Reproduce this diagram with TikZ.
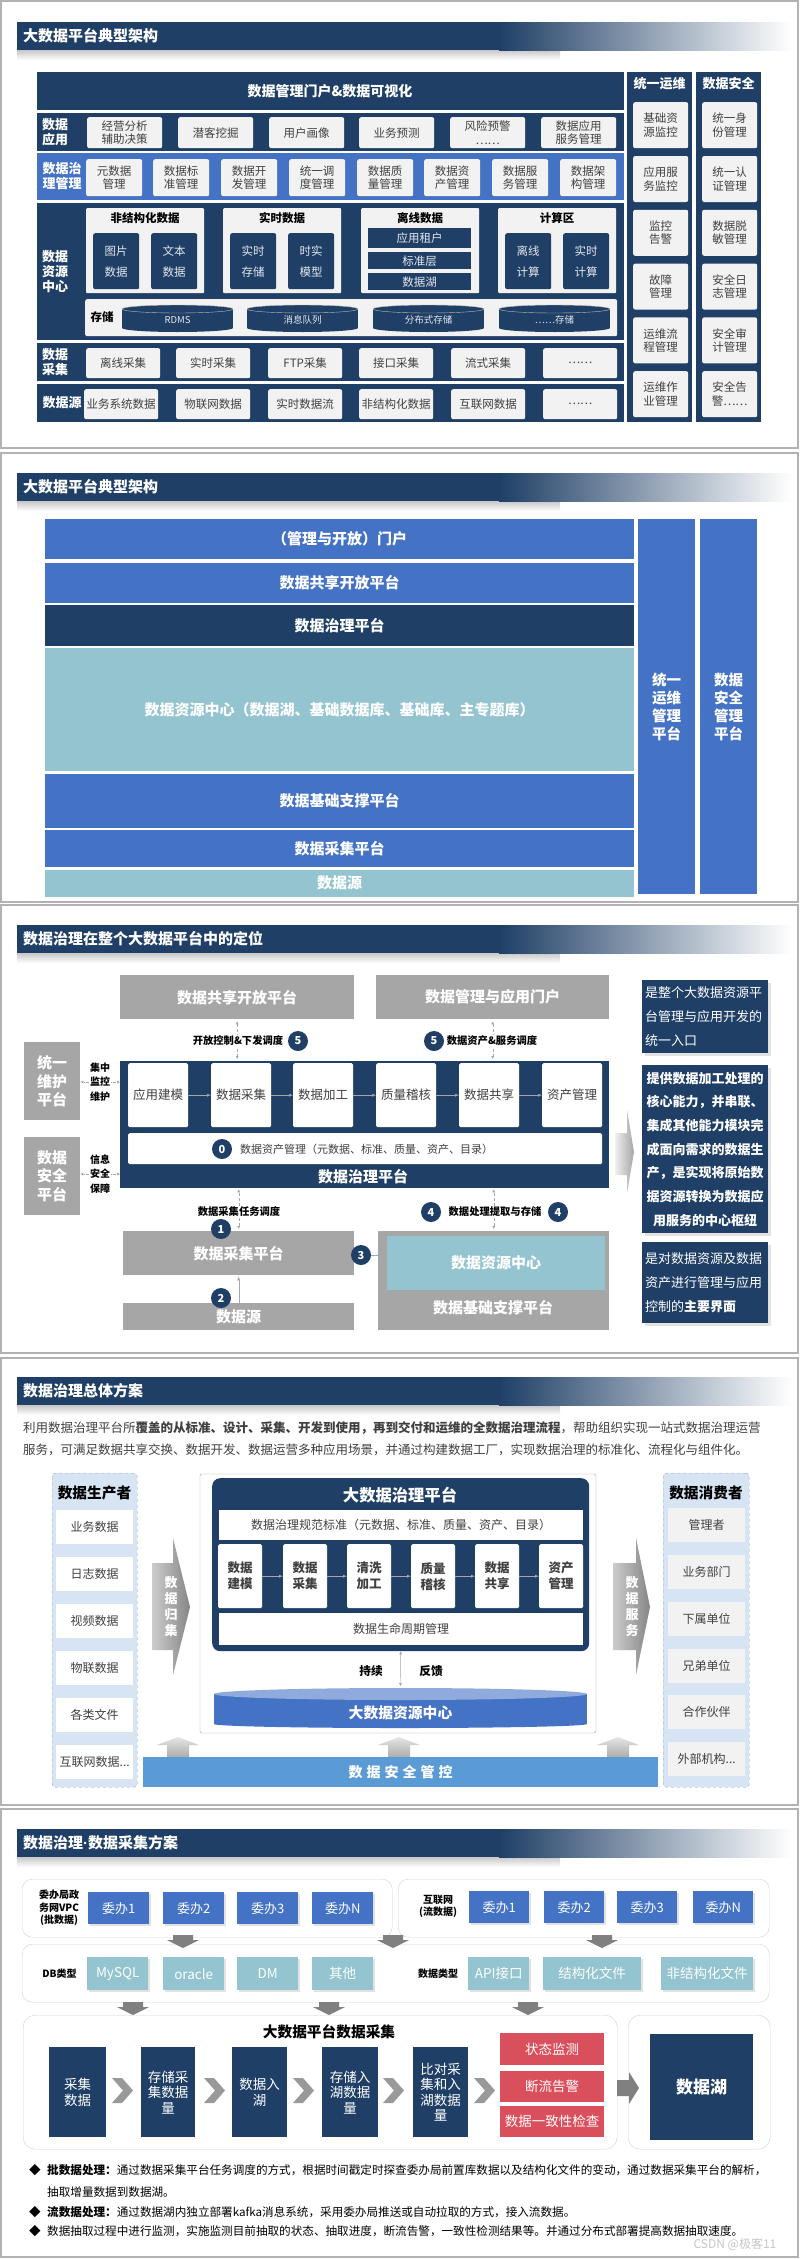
\documentclass[tikz,border=0pt]{standalone}
\usepackage{fontspec}
\setmainfont{Noto Sans CJK SC}
\newfontfamily\latinf{Liberation Sans}
\usepackage{tikz}
\usetikzlibrary{positioning,arrows.meta,calc,shadows}

\definecolor{navy}{HTML}{1F3F66}
\definecolor{oblue}{HTML}{4472C4}
\definecolor{tealc}{HTML}{93C4CF}
\definecolor{midg}{HTML}{A6A6A6}
\definecolor{lightg}{HTML}{F2F2F2}
\definecolor{redc}{HTML}{D9505C}
\definecolor{paleblue}{HTML}{D6E4F3}
\definecolor{dashc}{HTML}{8EA6C4}
\definecolor{secblue}{HTML}{5B9BD5}
\definecolor{cyltop}{HTML}{8FAADC}
\definecolor{txt}{HTML}{404040}

\newcommand\fsz[2]{\fontsize{#1}{#2}\selectfont}
\newcommand\threedots{...}
% title bar of a panel: name, top y, text
\newcommand\paneltitle[3]{%
  \shade[top color=black!22, bottom color=white] (17,#2+28) rectangle (560,#2+38);
  \fill[navy] (17,#2) rectangle (500,#2+28);
  \shade[left color=navy, right color=white] (499,#2) rectangle (792,#2+28);
  \node[titletext, anchor=west] (#1) at (23,#2+14) {#3};
}

\tikzset{
  panelline/.style={draw=gray!60, line width=1.5pt},
  titletext/.style={text=white, font=\fsz{15}{18}\bfseries, inner sep=0pt},
  headtext/.style={text=white, font=\fsz{14}{16}\bfseries, inner sep=0pt},
  rowlabel/.style={text=white, font=\fsz{13}{15}\bfseries, align=center, inner sep=0pt},
  coltitle/.style={text=white, font=\fsz{13}{15}\bfseries, inner sep=0pt},
  lbox/.style={fill=lightg, rounded corners=2pt, text=txt, font=\fsz{11.5}{13.5}, align=center, inner sep=0pt},
  subarea/.style={fill=lightg, rounded corners=1pt, inner sep=0pt},
  areatitle/.style={text=black, font=\fsz{11.5}{13}\bfseries, inner sep=0pt},
  nbox/.style={fill=navy, rounded corners=2pt, text=white!88!navy, font=\fsz{11.5}{21}, align=center, inner sep=0pt},
  barbox/.style={fill=navy, text=white!88!navy, font=\fsz{11.5}{13}, inner sep=0pt},
  cyltext/.style={text=white!88!navy, font=\fsz{9.5}{11}, inner sep=0pt},
  % panel 2
  layer/.style={minimum width=589pt, text=white, font=\fsz{15}{18}\bfseries, inner sep=0pt},
  sidecol/.style={fill=oblue, minimum width=57pt, minimum height=375pt, text=white, font=\fsz{14.5}{18}\bfseries, align=center, inner sep=0pt},
  % panel 3
  gbox/.style={fill=midg, text=white, font=\fsz{15}{18.3}\bfseries, align=center, inner sep=0pt},
  wbox/.style={fill=white, rounded corners=1.5pt, text=txt, font=\fsz{12.5}{15}, align=center, inner sep=0pt},
  numdot/.style={circle, fill=navy, text=white, minimum size=20pt, inner sep=0pt, font=\fsz{11}{11}\bfseries},
  steplabel/.style={text=black, font=\fsz{10.3}{12}\bfseries, inner sep=1pt},
  sidelabel/.style={text=black, font=\fsz{10}{14.3}\bfseries, align=center, inner sep=1pt},
  flowarr/.style={-{Latex[length=4pt, width=3pt]}, draw=gray!70, thin},
  linkarr/.style={{Latex[length=3pt, width=3pt]}-{Latex[length=3pt, width=3pt]}, draw=gray!70, densely dashed, thin},
  dotarr/.style={-{Latex[length=3pt, width=3pt]}, draw=gray!70, densely dotted, thin},
  notebox/.style={fill=navy, text=white, font=\fsz{13}{23.7}, text width=120pt, inner sep=3pt,
    drop shadow={shadow xshift=3pt, shadow yshift=-3pt, fill=gray!45}},
  % panel 4
  para/.style={text=txt, font=\fsz{12.5}{15}, inner sep=0pt},
  dashbox/.style={draw=dashc, dashed, fill=paleblue, rounded corners=3pt, inner sep=0pt},
  ptitle/.style={text=black, font=\fsz{14.7}{17}\bfseries, inner sep=0pt},
  wcell/.style={fill=white, text=txt, font=\fsz{12}{14}, inner sep=0pt},
  stepcell/.style={fill=white, rounded corners=1.5pt, text=txt, font=\fsz{12.5}{16}\bfseries, align=center, inner sep=0pt},
  vtext/.style={text=white, font=\fsz{13}{16}\bfseries, align=center, inner sep=0pt},
  % panel 5
  roundframe/.style={draw=gray!35, fill=white, rounded corners=10pt, inner sep=0pt},
  bbox/.style={fill=oblue, text=white, font=\fsz{13}{15}, inner sep=0pt,
    drop shadow={shadow xshift=1.5pt, shadow yshift=-1.5pt, fill=gray!45}},
  tbox/.style={fill=tealc, text=white, font=\fsz{13.5}{15}, inner sep=0pt,
    drop shadow={shadow xshift=1.5pt, shadow yshift=-1.5pt, fill=gray!45}},
  rbox/.style={fill=redc, text=white, font=\fsz{13.5}{15}, inner sep=0pt},
  tallbox/.style={fill=navy, text=white, font=\fsz{13.5}{15.5}, align=center, inner sep=0pt},
  smalllabel/.style={text=black, font=\fsz{10}{12.3}\bfseries, align=center, inner sep=0pt},
  bullet/.style={text=black, font=\fsz{11.6}{13}, inner sep=0pt}
}

\begin{document}
\begin{tikzpicture}[x=1pt, y=-1pt]
\useasboundingbox (0,0) rectangle (800,2259);
\fill[white] (0,0) rectangle (800,2259);

% ================= panel 1 =================
\draw[panelline] (1,1) rectangle (798,448);
\paneltitle{p1title}{22}{大数据平台典型架构}
% portal row
\fill[navy] (37,72) rectangle (624,110);
\node[headtext] (p1portal) at (330,91) {数据管理门户\&数据可视化};
% application row
\fill[navy] (37,113) rectangle (624,151);
\node[rowlabel] (p1lapp) at (55,132) {数据\\应用};
\foreach \x/\t [count=\i] in {87/{经营分析\\辅助决策}, 178/潜客挖掘, 269/用户画像, 359/业务预测, 450/{风险预警\\……}, 541/{数据应用\\服务管理}}
  \node[lbox, minimum width=75pt, minimum height=31pt, anchor=north west] (p1app\i) at (\x,117) {\t};
% governance row
\fill[oblue] (37,153) rectangle (624,200);
\node[rowlabel] (p1lgov) at (62,176) {数据治\\理管理};
\foreach \x/\t [count=\i] in {86/{元数据\\管理}, 153/{数据标\\准管理}, 221/{数据开\\发管理}, 289/{统一调\\度管理}, 357/{数据质\\量管理}, 424/{数据资\\产管理}, 492/{数据服\\务管理}, 560/{数据架\\构管理}}
  \node[lbox, minimum width=56pt, minimum height=37pt, anchor=north west] (p1gov\i) at (\x,159) {\t};
% resource centre row
\fill[navy] (37,203) rectangle (624,340);
\node[rowlabel] (p1lres) at (55,272) {数据\\资源\\中心};
\foreach \x/\t [count=\i] in {86/非结构化数据, 223/实时数据, 361/离线数据, 498/计算区}{
  \node[subarea, minimum width=118pt, minimum height=85pt, anchor=north west] (p1area\i) at (\x,208) {};
  \node[areatitle, below=4pt of p1area\i.north] (p1areat\i) {\t};
}
\foreach \x/\t [count=\i] in {93/{图片\\数据}, 151/{文本\\数据}, 230/{实时\\存储}, 288/{时实\\模型}, 505/{离线\\计算}, 563/{实时\\计算}}
  \node[nbox, minimum width=46pt, minimum height=56pt, anchor=north west] (p1inner\i) at (\x,233) {\t};
\foreach \y/\h/\t [count=\i] in {228/20/应用租户, 252/17/标准层, 273/17/数据湖}
  \node[barbox, minimum width=103pt, minimum height=\h pt, anchor=north west] (p1lake\i) at (368,\y) {\t};
% storage strip
\node[lbox, minimum width=532pt, minimum height=37pt, anchor=north west] (p1store) at (85,299) {};
\node[areatitle] (p1storet) at (102,317) {存储};
\foreach \x/\t [count=\i] in {122/RDMS, 247/消息队列, 373/分布式存储, 499/……存储}{
  \fill[navy] (\x,309) rectangle (\x+111,328);
  \fill[navy] (\x+55.5,328) ellipse [x radius=55.5pt, y radius=4pt];
  \filldraw[fill=navy, draw=gray!55, thin] (\x+55.5,309) ellipse [x radius=55.5pt, y radius=4pt];
  \node[cyltext] (p1cyl\i) at (\x+55.5,320) {\t};
}
% collection row
\fill[navy] (37,343) rectangle (624,381);
\node[rowlabel] (p1lcol) at (55,362) {数据\\采集};
\foreach \x/\t [count=\i] in {86/离线采集, 176/实时采集, 268/FTP采集, 359/接口采集, 451/流式采集, 543/……}
  \node[lbox, minimum width=74pt, minimum height=30pt, anchor=north west] (p1col\i) at (\x,348) {\t};
% source row
\fill[navy] (37,384) rectangle (624,422);
\node[rowlabel] (p1lsrc) at (62,403) {数据源};
\foreach \x/\t [count=\i] in {84/业务系统数据, 176/物联网数据, 268/实时数据流, 359/非结构化数据, 451/互联网数据, 543/……}
  \node[lbox, minimum width=74pt, minimum height=30pt, anchor=north west] (p1src\i) at (\x,389) {\t};
% side columns
\fill[navy] (627,72) rectangle (692,422);
\node[coltitle] (p1opst) at (659.5,84) {统一运维};
\foreach \t [count=\i] in {{基础资\\源监控}, {应用服\\务监控}, {监控\\告警}, {故障\\管理}, {运维流\\程管理}, {运维作\\业管理}}
  \node[lbox, minimum width=55pt, minimum height=46pt, anchor=north west] (p1ops\i) at (633,{102+53.8*(\i-1)}) {\t};
\fill[navy] (696,72) rectangle (761,422);
\node[coltitle] (p1sect) at (728.5,84) {数据安全};
\foreach \t [count=\i] in {{统一身\\份管理}, {统一认\\证管理}, {数据脱\\敏管理}, {安全日\\志管理}, {安全审\\计管理}, {安全告\\警……}}
  \node[lbox, minimum width=55pt, minimum height=46pt, anchor=north west] (p1sec\i) at (702,{102+53.8*(\i-1)}) {\t};

% ================= panel 2 =================
\draw[panelline] (1,453) rectangle (798,902);
\paneltitle{p2title}{473}{大数据平台典型架构}
\node[layer, fill=oblue, minimum height=40pt, anchor=north west] (p2portal) at (45,519) {（管理与开放）门户};
\node[layer, fill=oblue, minimum height=40pt, below=3pt of p2portal] (p2share) {数据共享开放平台};
\node[layer, fill=navy, minimum height=41pt, below=2pt of p2share] (p2gov) {数据治理平台};
\node[layer, fill=tealc, minimum height=123pt, below=2pt of p2gov] (p2res) {数据资源中心（数据湖、基础数据库、基础库、主专题库）};
\node[layer, fill=oblue, minimum height=54pt, below=2pt of p2res] (p2base) {数据基础支撑平台};
\node[layer, fill=oblue, minimum height=37pt, below=2pt of p2base] (p2col) {数据采集平台};
\node[layer, fill=tealc, minimum height=27pt, below=2pt of p2col] (p2src) {数据源};
\node[sidecol, anchor=north west] (p2ops) at (638,519) {统一\\运维\\管理\\平台};
\node[sidecol, anchor=north west] (p2sec) at (700,519) {数据\\安全\\管理\\平台};

% ================= panel 3 =================
\draw[panelline] (1,905) rectangle (798,1353);
\paneltitle{p3title}{925}{数据治理在整个大数据平台中的定位}
\node[gbox, minimum width=234pt, minimum height=44pt, anchor=north west] (p3share) at (120,975) {数据共享开放平台};
\node[gbox, minimum width=233pt, minimum height=44pt, anchor=north west] (p3portal) at (376,975) {数据管理与应用门户};
\node[gbox, minimum width=56pt, minimum height=78pt, anchor=north west] (p3ops) at (24,1042) {统一\\维护\\平台};
\node[gbox, minimum width=56pt, minimum height=78pt, anchor=north west] (p3sec) at (24,1137) {数据\\安全\\平台};
% governance platform
\node[fill=navy, minimum width=489pt, minimum height=127pt, inner sep=0pt, anchor=north west] (p3gov) at (120,1061) {};
\foreach \x/\t [count=\i] in {128/应用建模, 211/数据采集, 293/数据加工, 376/质量稽核, 459/数据共享, 542/资产管理}
  \node[wbox, minimum width=60pt, minimum height=64pt, anchor=north west] (p3step\i) at (\x,1063) {\t};
\foreach \i [remember=\i as \lasti (initially 1)] in {2,3,4,5,6}
  \draw[flowarr] (p3step\lasti) -- (p3step\i);
\node[wbox, minimum width=474pt, minimum height=31pt, anchor=north west] (p3asset) at (128,1133) {};
\node[numdot] (p3n0) at (222,1149) {0};
\node[text=txt, font=\fsz{11}{13}, inner sep=0pt, anchor=west] (p3assett) at (240,1149) {数据资产管理（元数据、标准、质量、资产、目录）};
\node[text=white, font=\fsz{15}{18}\bfseries, inner sep=0pt] (p3govt) at (363,1177) {数据治理平台};
% side platforms
\node[sidelabel] (p3lab1) at (100,1082) {集中\\监控\\维护};
\node[sidelabel] (p3lab2) at (100,1174) {信息\\安全\\保障};
\draw[dotarr] (p3lab1.west) -- (p3lab1 -| p3ops.east);
\draw[dotarr] (p3lab1.east) -- (p3lab1 -| p3gov.west);
\draw[dotarr] (p3lab2.west) -- (p3lab2 -| p3sec.east);
\draw[dotarr] (p3lab2.east) -- (p3lab2 -| p3gov.west);
% lower platforms
\node[gbox, minimum width=231pt, minimum height=44pt, anchor=north west] (p3col) at (123,1231) {数据采集平台};
\node[gbox, minimum width=231pt, minimum height=27pt, anchor=north west] (p3src) at (123,1303) {数据源};
\node[fill=midg, minimum width=231pt, minimum height=99pt, inner sep=0pt, anchor=north west] (p3base) at (378,1231) {};
\node[gbox, fill=tealc, minimum width=218pt, minimum height=54pt, anchor=north west] (p3res) at (387,1236) {数据资源中心};
\node[text=white, font=\fsz{15}{18}\bfseries, inner sep=0pt] (p3baset) at (493,1308) {数据基础支撑平台};
% links
\draw[linkarr, shorten <=2pt, shorten >=2pt] (p3share.south) -- (p3share.south |- p3gov.north);
\node[steplabel, fill=white] (p3l5a) at (238,1041) {开放控制\&下发调度};
\node[numdot] (p3n5a) at (298,1041) {5};
\draw[linkarr, shorten <=2pt, shorten >=2pt] (p3portal.south) -- (p3portal.south |- p3gov.north);
\node[steplabel, fill=white] (p3l5b) at (492,1041) {数据资产\&服务调度};
\node[numdot] (p3n5b) at (434,1041) {5};
\draw[linkarr, shorten <=2pt, shorten >=1pt] (p3col.north) -- (p3col.north |- p3gov.south);
\node[steplabel, fill=white] (p3l1) at (239,1212) {数据采集任务调度};
\node[numdot] (p3n1) at (221,1229) {1};
\draw[flowarr, shorten >=1pt] (p3src.north) -- (p3col.south);
\node[numdot] (p3n2) at (221,1298) {2};
\draw[linkarr, shorten <=2pt, shorten >=1pt] (p3base.north) -- (p3base.north |- p3gov.south);
\node[steplabel, fill=white] (p3l4) at (495,1212) {数据处理提取与存储};
\node[numdot] (p3n4a) at (431,1212) {4};
\node[numdot] (p3n4b) at (558,1212) {4};
\node[numdot] (p3n3) at (361,1255) {3};
\draw[flowarr] (p3n3.east) -- (p3n3 -| p3res.west);
% big arrow to notes
\shade[left color=gray!12, right color=gray!70] (615,1133) -- (627,1133) -- (627,1110) -- (634,1152) -- (627,1193) -- (627,1175) -- (615,1175) -- cycle;
% notes
\node[notebox, align=left, minimum height=73pt, anchor=north west] (p3note1) at (642,980)
  {是整个大数据资源平\\台管理与应用开发的\\统一入口};
\node[notebox, align=center, font=\fsz{13}{23.7}\bfseries, minimum height=168pt, anchor=north west] (p3note2) at (642,1065)
  {提供数据加工处理的\\核心能力，并串联、\\集成其他能力模块完\\成面向需求的数据生\\产，是实现将原始数\\据资源转换为数据应\\用服务的中心枢纽};
\node[notebox, align=left, minimum height=81pt, anchor=north west] (p3note3) at (642,1242)
  {是对数据资源及数据\\资产进行管理与应用\\控制的\textbf{主要界面}};

% ================= panel 4 =================
\draw[panelline] (1,1358) rectangle (798,1805);
\paneltitle{p4title}{1377}{数据治理总体方案}
\node[para, anchor=west] (p4para1) at (23,1428) {利用数据治理平台所\textbf{覆盖的从标准、设计、采集、开发到使用，再到交付和运维的全数据治理流程}，帮助组织实现一站式数据治理运营};
\node[para, anchor=west] (p4para2) at (23,1450) {服务，可满足数据共享交换、数据开发、数据运营多种应用场景，并通过构建数据工厂，实现数据治理的标准化、流程化与组件化。};
% producers
\node[dashbox, minimum width=85pt, minimum height=314pt, anchor=north west] (p4prod) at (52,1473) {};
\node[ptitle] (p4prodt) at (94.5,1493) {数据生产者};
\foreach \t [count=\i] in {业务数据, 日志数据, 视频数据, 物联数据, 各类文件, 互联网数据\threedots}
  \node[wcell, minimum width=77pt, minimum height=34pt, anchor=north west] (p4prod\i) at (56,{1510+47*(\i-1)}) {\t};
% consumers
\node[dashbox, minimum width=86pt, minimum height=314pt, anchor=north west] (p4cons) at (663,1473) {};
\node[ptitle] (p4const) at (706,1493) {数据消费者};
\foreach \t [count=\i] in {管理者, 业务部门, 下属单位, 兄弟单位, 合作伙伴, 外部机构\threedots}
  \node[wcell, fill=lightg, minimum width=77pt, minimum height=34pt, anchor=north west] (p4cons\i) at (668,{1508+46.8*(\i-1)}) {\t};
% collect / serve arrows
\shade[left color=gray!40, right color=gray!95] (152,1563) -- (173,1563) -- (173,1538) -- (190,1607) -- (173,1675) -- (173,1650) -- (152,1650) -- cycle;
\node[vtext] (p4in) at (171,1607) {数\\据\\归\\集};
\shade[left color=gray!40, right color=gray!95] (613,1563) -- (636,1563) -- (636,1538) -- (650,1607) -- (636,1675) -- (636,1650) -- (613,1650) -- cycle;
\node[vtext] (p4out) at (632,1607) {数\\据\\服\\务};
% platform
\draw[gray!70, rounded corners=2pt] (200,1474) rectangle (596,1733);
\node[fill=navy, rounded corners=8pt, minimum width=377pt, minimum height=173pt, inner sep=0pt, anchor=north west] (p4gov) at (212,1478) {};
\node[text=white, font=\fsz{16.3}{18}\bfseries, inner sep=0pt] (p4govt) at (400,1495) {大数据治理平台};
\node[wcell, minimum width=364pt, minimum height=30pt, anchor=north west] (p4std) at (219,1510) {数据治理规范标准（元数据、标准、质量、资产、目录）};
\foreach \x/\t [count=\i] in {218/{数据\\建模}, 283/{数据\\采集}, 347/{清洗\\加工}, 411/{质量\\稽核}, 475/{数据\\共享}, 539/{资产\\管理}}
  \node[stepcell, minimum width=44pt, minimum height=64pt, anchor=north west] (p4step\i) at (\x,1544) {\t};
\foreach \i [remember=\i as \lasti (initially 1)] in {2,3,4,5,6}
  \draw[flowarr] (p4step\lasti) -- (p4step\i);
\node[wcell, minimum width=364pt, minimum height=32pt, anchor=north west] (p4life) at (219,1613) {数据生命周期管理};
% resource centre cylinder
\fill[oblue] (214,1694) rectangle (587,1724);
\fill[oblue] (400.5,1724) ellipse [x radius=186.5pt, y radius=4pt];
\fill[cyltop] (400.5,1694) ellipse [x radius=186.5pt, y radius=6pt];
\node[text=white, font=\fsz{14.8}{17}\bfseries, inner sep=0pt] (p4res) at (400.5,1713) {大数据资源中心};
\coordinate (p4restop) at (400.5,1686);
\draw[{Latex[length=3pt, width=3pt]}-{Latex[length=3pt, width=3pt]}, gray!70, thin] (p4gov.south) -- (p4restop);
\node[text=black, font=\fsz{11.7}{13}\bfseries, inner sep=0pt] (p4cont) at (371,1671) {持续};
\node[text=black, font=\fsz{11.7}{13}\bfseries, inner sep=0pt] (p4feed) at (431,1671) {反馈};
% security bar and small arrows
\foreach \cx in {178,399,618}
  \shade[top color=gray!20, bottom color=gray!65] (\cx-21,1745) -- (\cx,1737) -- (\cx+21,1745) -- (\cx+11,1745) -- (\cx+11,1757) -- (\cx-11,1757) -- (\cx-11,1745) -- cycle;
\node[fill=secblue, minimum width=515pt, minimum height=30pt, inner sep=0pt, text=white, font=\fsz{14}{16}\bfseries, anchor=north west] (p4safe) at (143,1757)
  {数\hspace{4pt}据\hspace{4pt}安\hspace{4pt}全\hspace{4pt}管\hspace{4pt}控};

% ================= panel 5 =================
\draw[panelline] (1,1809) rectangle (798,2257);
\paneltitle{p5title}{1829}{数据治理{\latinf\bfseries ·}数据采集方案}
% sources
\node[roundframe, minimum width=370pt, minimum height=58pt, anchor=north west] (p5vpc) at (22,1879) {};
\node[smalllabel] (p5vpct) at (59,1908) {委办局政\\务网VPC\\(批数据)};
\foreach \x/\t [count=\i] in {88/委办1, 163/委办2, 237/委办3, 312/委办N}
  \node[bbox, minimum width=61pt, minimum height=32pt, anchor=north west] (p5a\i) at (\x,1892) {\t};
\node[roundframe, minimum width=371pt, minimum height=58pt, anchor=north west] (p5net) at (398,1879) {};
\node[smalllabel] (p5nett) at (438,1906) {互联网\\(流数据)};
\foreach \x/\t [count=\i] in {469/委办1, 544/委办2, 617/委办3, 693/委办N}
  \node[bbox, minimum width=60pt, minimum height=32pt, anchor=north west] (p5b\i) at (\x,1891) {\t};
% data types
\node[roundframe, minimum width=747pt, minimum height=58pt, anchor=north west] (p5type) at (22,1944) {};
\node[smalllabel] (p5db) at (59.5,1974) {DB类型};
\foreach \x/\w/\t [count=\i] in {87/61/MySQL, 163/61/oracle, 237/61/DM, 312/61/其他, 468/61/API接口, 543/98/结构化文件, 661/92/非结构化文件}
  \node[tbox, minimum width=\w pt, minimum height=33pt, anchor=north west] (p5t\i) at (\x,1957) {\t};
\node[smalllabel] (p5dt) at (438,1974) {数据类型};
% down arrows
\foreach \cx/\ty in {183/1935, 393/1935, 602/1935, 133/2002, 329/2002, 528/2002}
  \fill[black!50] (\cx-10,\ty) -- (\cx+10,\ty) -- (\cx+10,\ty+5) -- (\cx+16,\ty+5) -- (\cx,\ty+13) -- (\cx-16,\ty+5) -- (\cx-10,\ty+5) -- cycle;
% collection pipeline
\node[roundframe, rounded corners=12pt, minimum width=594pt, minimum height=134pt, anchor=north west] (p5pipe) at (23,2015) {};
\node[text=black, font=\fsz{14.7}{17}\bfseries, inner sep=0pt] (p5pipet) at (329,2032) {大数据平台数据采集};
\foreach \x/\w/\t [count=\i] in {49/57/{采集\\数据}, 141/54/{存储采\\集数据\\量}, 232/55/{数据入\\湖}, 322/56/{存储入\\湖数据\\量}, 413/55/{比对采\\集和入\\湖数据\\量}}
  \node[tallbox, minimum width=\w pt, minimum height=90pt, anchor=north west] (p5s\i) at (\x,2047) {\t};
\foreach \a in {112,204,293,383,474}
  \fill[black!40] (\a,2078) -- (\a+10,2078) -- (\a+21,2090.5) -- (\a+10,2103) -- (\a,2103) -- (\a+11,2090.5) -- cycle;
\foreach \y/\h/\t [count=\i] in {2033/32/状态监测, 2071/31/断流告警, 2106/31/数据一致性检查}
  \node[rbox, minimum width=104pt, minimum height=\h pt, anchor=north west] (p5r\i) at (500,\y) {\t};
\node[roundframe, rounded corners=12pt, minimum width=142pt, minimum height=134pt, anchor=north west] (p5lakef) at (628,2015) {};
\node[tallbox, font=\fsz{17}{19}\bfseries, minimum width=103pt, minimum height=106pt, anchor=north west] (p5lake) at (650,2034) {数据湖};
\fill[black!50] (617,2080) -- (629,2080) -- (629,2072) -- (639,2088) -- (629,2104) -- (629,2096) -- (617,2096) -- cycle;
% notes
\node[bullet] (p5d1) at (35,2170) {◆};
\node[bullet, anchor=west] (p5n1) at (47,2170) {\textbf{批数据处理：}通过数据采集平台任务调度的方式，根据时间戳定时探查委办局前置库数据以及结构化文件的变动，通过数据采集平台的解析，};
\node[bullet, anchor=west] (p5n1b) at (47,2192) {抽取增量数据到数据湖。};
\node[bullet] (p5d2) at (35,2212) {◆};
\node[bullet, anchor=west] (p5n2) at (47,2212) {\textbf{流数据处理：}通过数据湖内独立部署kafka消息系统，采用委办局推送或自动拉取的方式，接入流数据。};
\node[bullet] (p5d3) at (35,2231) {◆};
\node[bullet, anchor=west] (p5n3) at (47,2231) {数据抽取过程中进行监测，实施监测目前抽取的状态、抽取进度，断流告警，一致性检测结果等。并通过分布式部署提高数据抽取速度。};
\node[text=gray!45, font=\fsz{12}{14}, inner sep=0pt] (p5mark) at (735,2244) {CSDN @极客11};
\end{tikzpicture}
\end{document}
